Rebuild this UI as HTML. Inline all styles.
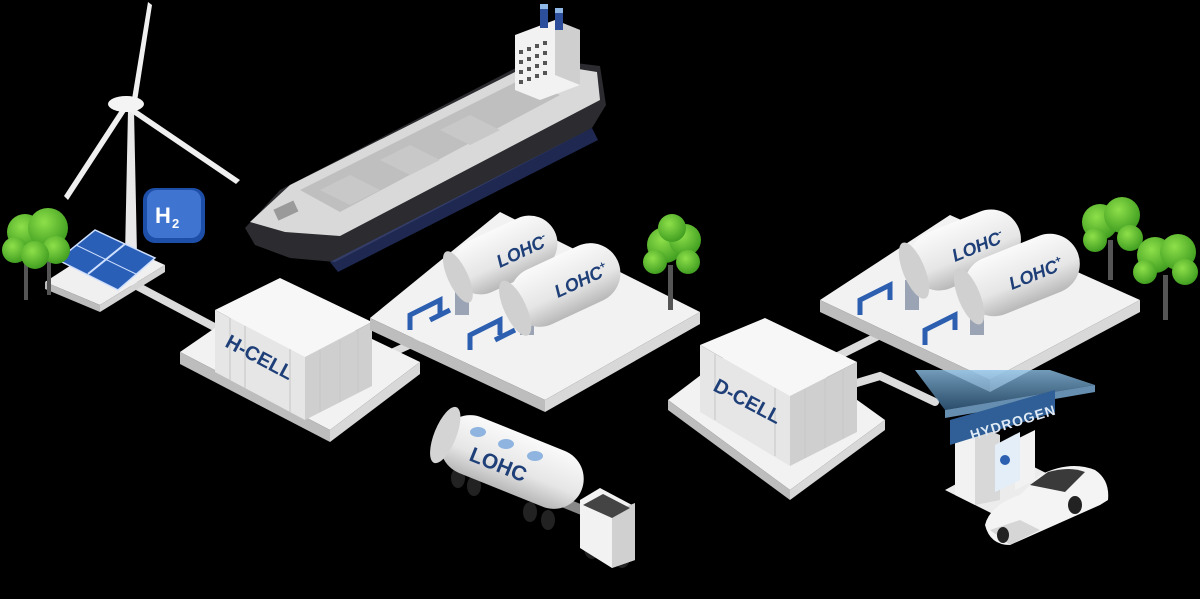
<!DOCTYPE html>
<html><head><meta charset="utf-8"><style>
html,body{margin:0;padding:0;background:#000;width:1200px;height:599px;overflow:hidden;}
svg{display:block;}
text{font-family:"Liberation Sans",sans-serif;font-weight:bold;}
</style></head><body>
<svg width="1200" height="599" viewBox="0 0 1200 599" xmlns="http://www.w3.org/2000/svg">
<defs>
<linearGradient id="tank" x1="0" y1="0" x2="0" y2="1"><stop offset="0" stop-color="#fafafa"/><stop offset="0.6" stop-color="#e6e6e6"/><stop offset="1" stop-color="#b8b8b8"/></linearGradient>
<linearGradient id="glass" x1="0" y1="0" x2="0" y2="1"><stop offset="0" stop-color="#8fc3e8" stop-opacity="0.8"/><stop offset="1" stop-color="#3d6f99" stop-opacity="0.7"/></linearGradient>
<radialGradient id="tree" cx="0.4" cy="0.35" r="0.7"><stop offset="0" stop-color="#8ee04a"/><stop offset="1" stop-color="#3c9a1e"/></radialGradient>
</defs>
<rect width="1200" height="599" fill="#000"/>

<!-- Ship -->
<g>
<polygon points="245,228 280,190 535,58 600,66 606,105 592,128 335,262 290,258 255,245" fill="#2b2b30"/>
<polygon points="330,262 592,128 598,140 338,272" fill="#3b4fa0" opacity="0.5"/>
<polygon points="250,222 290,185 535,62 597,72 600,100 340,236 285,232" fill="#d9d9d9"/>
<polygon points="300,190 520,80 560,95 340,212" fill="#bfbfbf"/>
<polygon points="320,190 350,175 380,190 350,205" fill="#c8c8c8"/>
<polygon points="380,160 410,145 440,160 410,175" fill="#c8c8c8"/>
<polygon points="440,130 470,115 500,130 470,145" fill="#c8c8c8"/>
<rect x="275" y="205" width="22" height="12" fill="#9a9a9a" transform="rotate(-25 285 211)"/>
<polygon points="515,35 555,20 580,30 580,85 540,100 515,90" fill="#f2f2f2"/>
<polygon points="555,20 580,30 580,85 555,75" fill="#cfcfcf"/>
<g fill="#555">
<rect x="519" y="50" width="4" height="4"/><rect x="527" y="47" width="4" height="4"/><rect x="535" y="44" width="4" height="4"/><rect x="543" y="41" width="4" height="4"/>
<rect x="519" y="60" width="4" height="4"/><rect x="527" y="57" width="4" height="4"/><rect x="535" y="54" width="4" height="4"/><rect x="543" y="51" width="4" height="4"/>
<rect x="519" y="70" width="4" height="4"/><rect x="527" y="67" width="4" height="4"/><rect x="535" y="64" width="4" height="4"/><rect x="543" y="61" width="4" height="4"/>
<rect x="519" y="80" width="4" height="4"/><rect x="527" y="77" width="4" height="4"/><rect x="535" y="74" width="4" height="4"/><rect x="543" y="71" width="4" height="4"/>
</g>
<rect x="540" y="6" width="8" height="22" fill="#2d4e9a"/><rect x="555" y="10" width="8" height="20" fill="#2d4e9a"/>
<rect x="540" y="4" width="8" height="5" fill="#8fb8e6"/><rect x="555" y="8" width="8" height="5" fill="#8fb8e6"/>
</g>

<!-- Wind turbine -->
<polygon points="128,110 134,110 137,255 125,255" fill="#e8e8e8"/>
<polygon points="131,105 148,2 152,5 136,108" fill="#f0f0f0"/>
<polygon points="134,108 240,180 236,184 130,112" fill="#f0f0f0"/>
<polygon points="128,108 68,200 64,196 124,104" fill="#f0f0f0"/>
<ellipse cx="126" cy="104" rx="18" ry="8" fill="#f4f4f4"/>

<!-- H2 badge -->
<rect x="143" y="188" width="62" height="55" rx="12" fill="#1e4fa8"/>
<rect x="147" y="190" width="54" height="48" rx="10" fill="#3f74d0"/>
<text x="155" y="223" fill="#fff" font-size="22">H</text><text x="172" y="228" fill="#fff" font-size="13">2</text>

<!-- Pipes -->
<g stroke="#dcdcdc" stroke-width="8" fill="none" stroke-linecap="round">
<polyline points="135,285 220,330"/>
<polyline points="365,365 420,340"/>
<polyline points="820,365 880,335"/>
<polyline points="850,385 880,376 935,402"/>
</g>

<!-- Solar platform -->
<polygon points="45,282 110,240 165,265 100,305" fill="#f0f0f0"/>
<polygon points="45,282 100,305 100,312 45,289" fill="#bcbcbc"/>
<polygon points="100,305 165,265 165,272 100,312" fill="#d4d4d4"/>
<polygon points="58,260 95,230 155,258 118,290" fill="#2a5fb8" stroke="#cfe0ff" stroke-width="1.5"/>
<line x1="76" y1="245" x2="136" y2="274" stroke="#cfe0ff" stroke-width="1"/>
<line x1="88" y1="274" x2="125" y2="244" stroke="#cfe0ff" stroke-width="2"/>

<!-- Trees left -->
<g><rect x="24" y="255" width="4" height="45" fill="#555"/><rect x="47" y="250" width="4" height="45" fill="#555"/>
<circle cx="25" cy="232" r="18" fill="url(#tree)"/><circle cx="15" cy="250" r="13" fill="url(#tree)"/><circle cx="48" cy="228" r="20" fill="url(#tree)"/><circle cx="56" cy="250" r="14" fill="url(#tree)"/><circle cx="35" cy="255" r="14" fill="url(#tree)"/></g>

<!-- H-CELL platform -->
<polygon points="180,352 270,290 420,362 330,430" fill="#f2f2f2"/>
<polygon points="180,352 330,430 330,442 180,364" fill="#bdbdbd"/>
<polygon points="330,430 420,362 420,374 330,442" fill="#d8d8d8"/>
<polygon points="215,310 280,278 372,322 305,357" fill="#f7f7f7"/>
<polygon points="215,310 305,357 305,420 215,372" fill="#e6e6e6"/>
<polygon points="305,357 372,322 372,386 305,420" fill="#cfcfcf"/>
<g stroke="#c7c7c7" stroke-width="1">
<line x1="230" y1="318" x2="230" y2="380"/><line x1="245" y1="326" x2="245" y2="388"/><line x1="290" y1="349" x2="290" y2="412"/>
<line x1="320" y1="350" x2="320" y2="412"/><line x1="340" y1="340" x2="340" y2="402"/><line x1="358" y1="330" x2="358" y2="392"/>
</g>
<text font-size="20" fill="#1e3f78" transform="translate(224,346) rotate(28)">H-CELL</text>

<!-- Middle LOHC platform -->
<polygon points="370,318 500,212 700,312 545,400" fill="#f2f2f2"/>
<polygon points="370,318 545,400 545,412 370,330" fill="#bdbdbd"/>
<polygon points="545,400 700,312 700,324 545,412" fill="#d8d8d8"/>
<g stroke="#2d5fb0" stroke-width="5" fill="none">
<path d="M410,330 l0,-15 l30,-15 l0,15"/><path d="M470,350 l0,-15 l30,-15 l0,15"/>
<path d="M430,320 l20,-10"/><path d="M495,340 l20,-10"/>
</g>
<rect x="455" y="285" width="14" height="30" fill="#9aa4b4"/><rect x="520" y="305" width="14" height="30" fill="#9aa4b4"/>
<g transform="translate(505,255) rotate(-25)"><rect x="-55" y="-28" width="110" height="56" rx="28" fill="url(#tank)"/><ellipse cx="-52" cy="0" rx="10" ry="28" fill="#d0d0d0"/></g>
<text font-size="18" fill="#1e3f78" font-style="italic" transform="translate(500,268) rotate(-25)">LOHC<tspan font-size="10" dy="-8">-</tspan></text>
<g transform="translate(565,285) rotate(-25)"><rect x="-58" y="-30" width="116" height="60" rx="30" fill="url(#tank)"/><ellipse cx="-55" cy="0" rx="11" ry="30" fill="#d0d0d0"/></g>
<text font-size="18" fill="#1e3f78" font-style="italic" transform="translate(558,298) rotate(-25)">LOHC<tspan font-size="10" dy="-8">+</tspan></text>

<!-- Tree middle -->
<rect x="668" y="265" width="5" height="45" fill="#555"/>
<circle cx="665" cy="245" r="18" fill="url(#tree)"/><circle cx="685" cy="240" r="16" fill="url(#tree)"/><circle cx="655" cy="262" r="12" fill="url(#tree)"/><circle cx="688" cy="262" r="12" fill="url(#tree)"/><circle cx="672" cy="228" r="14" fill="url(#tree)"/>

<!-- Truck -->
<g>
<ellipse cx="458" cy="478" rx="7" ry="10" fill="#222"/><ellipse cx="474" cy="486" rx="7" ry="10" fill="#222"/><ellipse cx="530" cy="512" rx="7" ry="10" fill="#222"/><ellipse cx="548" cy="520" rx="7" ry="10" fill="#222"/><ellipse cx="592" cy="548" rx="8" ry="11" fill="#222"/><ellipse cx="622" cy="557" rx="8" ry="11" fill="#222"/>
<rect x="500" y="490" width="95" height="10" fill="#888" transform="rotate(22 545 495)"/>
<g transform="translate(512,462) rotate(22)"><rect x="-75" y="-30" width="150" height="60" rx="30" fill="url(#tank)"/><ellipse cx="-72" cy="0" rx="11" ry="30" fill="#d4d4d4"/></g>
<ellipse cx="478" cy="432" rx="8" ry="5" fill="#8fb4e0"/><ellipse cx="506" cy="444" rx="8" ry="5" fill="#8fb4e0"/><ellipse cx="535" cy="456" rx="8" ry="5" fill="#8fb4e0"/>
<text font-size="21" fill="#1e3f78" transform="translate(468,460) rotate(22)">LOHC</text>
<polygon points="580,500 600,488 632,505 635,560 612,568 580,548" fill="#f2f2f2"/>
<polygon points="612,512 635,503 635,560 612,568" fill="#d0d0d0"/>
<polygon points="583,505 603,494 630,508 612,518" fill="#444"/>
</g>

<!-- D-CELL platform -->
<polygon points="668,400 760,330 885,420 790,490" fill="#f2f2f2"/>
<polygon points="668,400 790,490 790,500 668,410" fill="#bdbdbd"/>
<polygon points="790,490 885,420 885,430 790,500" fill="#d8d8d8"/>
<polygon points="700,345 765,318 857,362 790,396" fill="#f7f7f7"/>
<polygon points="700,345 790,396 790,466 700,412" fill="#e6e6e6"/>
<polygon points="790,396 857,362 857,432 790,466" fill="#cfcfcf"/>
<g stroke="#c7c7c7" stroke-width="1">
<line x1="715" y1="354" x2="715" y2="420"/><line x1="775" y1="388" x2="775" y2="456"/>
<line x1="805" y1="389" x2="805" y2="458"/><line x1="825" y1="379" x2="825" y2="448"/><line x1="843" y1="369" x2="843" y2="438"/>
</g>
<text font-size="20" fill="#1e3f78" transform="translate(712,390) rotate(28)">D-CELL</text>

<!-- Right LOHC platform -->
<polygon points="820,300 950,215 1140,300 990,380" fill="#f2f2f2"/>
<polygon points="820,300 990,380 990,392 820,312" fill="#bdbdbd"/>
<polygon points="990,380 1140,300 1140,312 990,392" fill="#d8d8d8"/>
<g stroke="#2d5fb0" stroke-width="5" fill="none">
<path d="M860,315 l0,-15 l30,-15 l0,15"/><path d="M925,345 l0,-15 l30,-15 l0,15"/>
</g>
<rect x="905" y="280" width="14" height="30" fill="#9aa4b4"/><rect x="970" y="305" width="14" height="30" fill="#9aa4b4"/>
<g transform="translate(965,250) rotate(-22)"><rect x="-58" y="-30" width="116" height="60" rx="30" fill="url(#tank)"/><ellipse cx="-55" cy="0" rx="11" ry="30" fill="#d0d0d0"/></g>
<text font-size="18" fill="#1e3f78" font-style="italic" transform="translate(955,262) rotate(-22)">LOHC<tspan font-size="10" dy="-8">-</tspan></text>
<g transform="translate(1022,275) rotate(-22)"><rect x="-60" y="-30" width="120" height="60" rx="30" fill="url(#tank)"/><ellipse cx="-57" cy="0" rx="11" ry="30" fill="#d0d0d0"/></g>
<text font-size="18" fill="#1e3f78" font-style="italic" transform="translate(1012,290) rotate(-22)">LOHC<tspan font-size="10" dy="-8">+</tspan></text>

<!-- Trees right -->
<rect x="1108" y="240" width="5" height="40" fill="#555"/><rect x="1163" y="275" width="5" height="45" fill="#555"/>
<circle cx="1100" cy="222" r="18" fill="url(#tree)"/><circle cx="1122" cy="215" r="18" fill="url(#tree)"/><circle cx="1095" cy="240" r="12" fill="url(#tree)"/><circle cx="1130" cy="238" r="13" fill="url(#tree)"/>
<circle cx="1155" cy="255" r="18" fill="url(#tree)"/><circle cx="1178" cy="252" r="18" fill="url(#tree)"/><circle cx="1145" cy="272" r="12" fill="url(#tree)"/><circle cx="1185" cy="272" r="13" fill="url(#tree)"/>

<!-- Hydrogen station -->
<polygon points="945,490 1010,455 1060,480 995,515" fill="#ececec"/>
<polygon points="955,435 975,425 975,505 955,495" fill="#f2f2f2"/>
<polygon points="975,425 1000,435 1000,500 975,505" fill="#d8d8d8"/>
<polygon points="1015,440 1035,430 1035,480 1015,490" fill="#f2f2f2"/>
<polygon points="995,445 1020,432 1020,480 995,492" fill="#e4eef8"/>
<circle cx="1005" cy="460" r="5" fill="#2d5fb0"/>
<polygon points="915,370 1050,370 1095,385 945,410" fill="url(#glass)"/>
<polygon points="945,410 1095,385 1095,392 945,418" fill="#7fb1dc" opacity="0.8"/>
<polygon points="950,420 1055,390 1055,412 950,445" fill="#2f5f96"/>
<text font-size="14" fill="#dfeaf6" font-weight="normal" transform="translate(972,440) rotate(-17)" letter-spacing="1">HYDROGEN</text>

<!-- Car -->
<path d="M985,525 Q990,505 1020,495 L1040,475 Q1070,460 1095,470 Q1110,480 1108,500 L1100,505 L1010,545 Q990,545 985,525 Z" fill="#f4f4f4"/>
<path d="M1030,485 L1048,472 Q1070,466 1085,472 L1065,492 Z" fill="#3a3a3a"/>
<path d="M990,530 L1010,545 L1040,530 L1020,520 Z" fill="#d6d6d6"/>
<ellipse cx="1003" cy="535" rx="6" ry="8" fill="#222"/><ellipse cx="1075" cy="505" rx="7" ry="9" fill="#222"/>
</svg>
</body></html>
